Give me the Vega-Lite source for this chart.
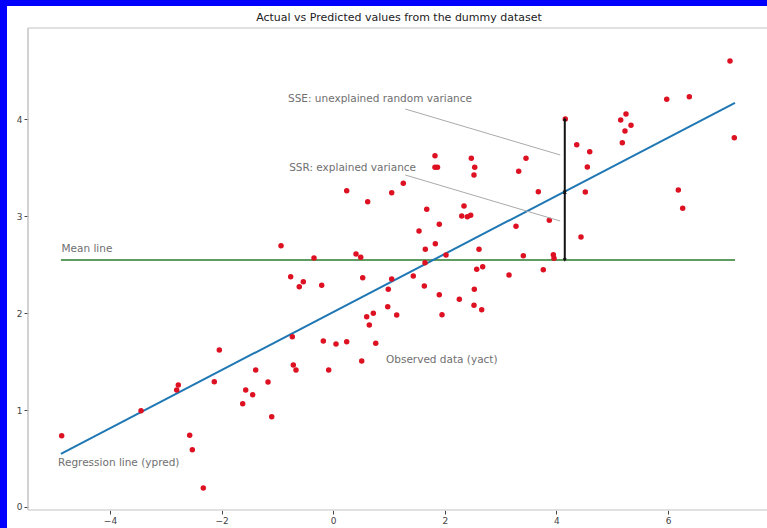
{
  "$schema": "https://vega.github.io/schema/vega-lite/v6.json",
  "width": 760,
  "height": 522,
  "autosize": {"type": "none"},
  "padding": {"left": 7, "top": 6, "right": 0, "bottom": 0},
  "background": "#0000ff",
  "config": {
    "view": {"fill": "white", "stroke": null},
    "font": "DejaVu Sans"
  },
  "title": {
    "text": "Actual vs Predicted values from the dummy dataset",
    "fontSize": 11,
    "fontWeight": "normal",
    "color": "#222222",
    "anchor": "middle",
    "frame": "group",
    "baseline": "middle",
    "offset": -23,
    "dx": 12
  },
  "datasets": {
    "observed": [
      {"x": 0.242, "y": 3.261}, {"x": 0.618, "y": 3.147}, {"x": 1.048, "y": 3.240},
      {"x": -0.935, "y": 2.694}, {"x": -0.344, "y": 2.567}, {"x": 0.409, "y": 2.608},
      {"x": 0.493, "y": 2.574}, {"x": -0.762, "y": 2.374}, {"x": -0.536, "y": 2.323},
      {"x": -0.608, "y": 2.271}, {"x": -0.206, "y": 2.286}, {"x": 0.529, "y": 2.364},
      {"x": 1.048, "y": 2.351}, {"x": 7.111, "y": 4.598}, {"x": 5.977, "y": 4.203},
      {"x": 6.382, "y": 4.230}, {"x": 7.188, "y": 3.807}, {"x": 4.159, "y": 4.000},
      {"x": 5.152, "y": 3.990}, {"x": 5.247, "y": 4.052}, {"x": 5.337, "y": 3.935},
      {"x": 5.229, "y": 3.876}, {"x": 5.181, "y": 3.756}, {"x": 4.364, "y": 3.735},
      {"x": 4.597, "y": 3.663}, {"x": 4.554, "y": 3.505}, {"x": 4.518, "y": 3.247},
      {"x": 6.185, "y": 3.268}, {"x": 6.263, "y": 3.079}, {"x": 4.441, "y": 2.784},
      {"x": 1.824, "y": 3.622}, {"x": 1.824, "y": 3.502}, {"x": 1.869, "y": 3.502},
      {"x": 2.475, "y": 3.595}, {"x": 2.536, "y": 3.502}, {"x": 2.523, "y": 3.423},
      {"x": 3.455, "y": 3.595}, {"x": 3.324, "y": 3.461}, {"x": 1.256, "y": 3.337},
      {"x": 3.676, "y": 3.251}, {"x": 1.676, "y": 3.069}, {"x": 2.344, "y": 3.103},
      {"x": 2.303, "y": 3.000}, {"x": 2.403, "y": 2.993}, {"x": 2.464, "y": 3.007},
      {"x": 1.901, "y": 2.914}, {"x": 1.538, "y": 2.845}, {"x": 3.276, "y": 2.894},
      {"x": 3.873, "y": 2.956}, {"x": 1.830, "y": 2.714}, {"x": 1.651, "y": 2.657},
      {"x": 2.613, "y": 2.657}, {"x": 2.022, "y": 2.598}, {"x": 3.407, "y": 2.591},
      {"x": 3.945, "y": 2.601}, {"x": 3.957, "y": 2.564}, {"x": 1.645, "y": 2.519},
      {"x": 2.572, "y": 2.451}, {"x": 2.679, "y": 2.477}, {"x": 3.765, "y": 2.446},
      {"x": 3.151, "y": 2.392}, {"x": 1.435, "y": 2.381}, {"x": 0.987, "y": 2.244},
      {"x": 1.633, "y": 2.278}, {"x": 2.529, "y": 2.244}, {"x": 0.977, "y": 2.065},
      {"x": 0.600, "y": 1.962}, {"x": 0.719, "y": 1.997}, {"x": 0.647, "y": 1.876},
      {"x": 1.138, "y": 1.979}, {"x": 0.762, "y": 1.688}, {"x": -0.733, "y": 1.756},
      {"x": -0.177, "y": 1.711}, {"x": 0.050, "y": 1.680}, {"x": 0.242, "y": 1.704},
      {"x": 0.511, "y": 1.505}, {"x": -0.081, "y": 1.412}, {"x": -0.715, "y": 1.464},
      {"x": -0.667, "y": 1.412}, {"x": -1.389, "y": 1.412}, {"x": -1.168, "y": 1.289},
      {"x": -1.568, "y": 1.206}, {"x": -1.443, "y": 1.158}, {"x": -1.622, "y": 1.065},
      {"x": -1.102, "y": 0.931}, {"x": -2.041, "y": 1.619}, {"x": -2.131, "y": 1.292},
      {"x": -2.776, "y": 1.258}, {"x": -2.805, "y": 1.206}, {"x": -3.444, "y": 0.993},
      {"x": -4.866, "y": 0.735}, {"x": -2.572, "y": 0.739}, {"x": -2.525, "y": 0.591},
      {"x": -2.328, "y": 0.196}, {"x": 1.901, "y": 2.189}, {"x": 2.260, "y": 2.141},
      {"x": 2.523, "y": 2.079}, {"x": 2.661, "y": 2.034}, {"x": 1.950, "y": 1.982}
    ],
    "meanLine": [{"x": -4.88, "y": 2.546}, {"x": 7.2, "y": 2.546}],
    "regressionLine": [{"x": -4.88, "y": 0.548}, {"x": 7.2, "y": 4.167}],
    "pointers": [
      {"x": 1.29, "y": 4.103, "x2": 4.068, "y2": 3.629},
      {"x": 1.29, "y": 3.423, "x2": 4.068, "y2": 2.948}
    ],
    "residual": [{"x": 4.15, "y": 2.546, "y2": 4.0}],
    "arrowHeads": [
      {"x": 4.15, "y": 4.0, "end": "up"},
      {"x": 4.15, "y": 3.245, "end": "down"},
      {"x": 4.15, "y": 3.245, "end": "up"},
      {"x": 4.15, "y": 2.546, "end": "down"}
    ],
    "labels": [
      {"x": -0.81, "y": 4.21, "label": "SSE: unexplained random variance"},
      {"x": -0.79, "y": 3.50, "label": "SSR: explained variance"},
      {"x": -4.87, "y": 2.66, "label": "Mean line"},
      {"x": -4.93, "y": 0.457, "label": "Regression line (ypred)"},
      {"x": 0.946, "y": 1.515, "label": "Observed data (yact)"}
    ]
  },
  "layer": [
    {
      "data": {"name": "meanLine"},
      "mark": {"type": "line", "color": "#5f9c5f", "strokeWidth": 2},
      "encoding": {
        "x": {
          "field": "x",
          "type": "quantitative",
          "scale": {"domain": [-5.846, 7.774], "nice": false, "zero": false},
          "axis": {
            "values": [-4, -2, 0, 2, 4, 6],
            "format": ".0f",
            "offset": -18,
            "domain": false,
            "grid": false,
            "tickSize": 4,
            "tickColor": "#444444",
            "labelFontSize": 9,
            "labelColor": "#444444",
            "labelPadding": 2,
            "title": null
          }
        },
        "y": {
          "field": "y",
          "type": "quantitative",
          "scale": {"domain": [-0.2165, 5.165], "nice": false, "zero": false},
          "axis": {
            "values": [0, 1, 2, 3, 4],
            "format": ".0f",
            "offset": -21,
            "domain": false,
            "grid": false,
            "tickSize": 4,
            "tickColor": "#444444",
            "labelFontSize": 9,
            "labelColor": "#444444",
            "labelPadding": 2,
            "title": null
          }
        }
      }
    },
    {
      "data": {"values": [{"side": "left"}]},
      "mark": {"type": "rule", "color": "#c4c4c4", "strokeWidth": 1.5},
      "encoding": {
        "x": {"datum": -5.47, "type": "quantitative"},
        "y": {"datum": -0.031, "type": "quantitative"},
        "y2": {"datum": 4.938}
      }
    },
    {
      "data": {"values": [{"side": "top"}]},
      "mark": {"type": "rule", "color": "#d6d6d6", "strokeWidth": 1.5},
      "encoding": {
        "x": {"datum": -5.47, "type": "quantitative"},
        "x2": {"datum": 7.774},
        "y": {"datum": 4.938, "type": "quantitative"}
      }
    },
    {
      "data": {"values": [{"side": "bottom"}]},
      "mark": {"type": "rule", "color": "#d6d6d6", "strokeWidth": 1.5},
      "encoding": {
        "x": {"datum": -5.47, "type": "quantitative"},
        "x2": {"datum": 7.774},
        "y": {"datum": -0.031, "type": "quantitative"}
      }
    },
    {
      "data": {"name": "regressionLine"},
      "mark": {"type": "line", "color": "#1f77b4", "strokeWidth": 2},
      "encoding": {
        "x": {"field": "x", "type": "quantitative"},
        "y": {"field": "y", "type": "quantitative"}
      }
    },
    {
      "data": {"name": "observed"},
      "mark": {"type": "point", "filled": true, "color": "#dd1122", "opacity": 1, "size": 30},
      "encoding": {
        "x": {"field": "x", "type": "quantitative"},
        "y": {"field": "y", "type": "quantitative"}
      }
    },
    {
      "data": {"name": "pointers"},
      "mark": {"type": "rule", "color": "#aaaaaa", "strokeWidth": 1},
      "encoding": {
        "x": {"field": "x", "type": "quantitative"},
        "y": {"field": "y", "type": "quantitative"},
        "x2": {"field": "x2"},
        "y2": {"field": "y2"}
      }
    },
    {
      "data": {"name": "residual"},
      "mark": {"type": "rule", "color": "#111111", "strokeWidth": 2},
      "encoding": {
        "x": {"field": "x", "type": "quantitative"},
        "y": {"field": "y", "type": "quantitative"},
        "y2": {"field": "y2"}
      }
    },
    {
      "data": {"name": "arrowHeads"},
      "mark": {"type": "point", "filled": true, "color": "#111111", "opacity": 1, "size": 16},
      "encoding": {
        "x": {"field": "x", "type": "quantitative"},
        "y": {"field": "y", "type": "quantitative"},
        "shape": {
          "field": "end",
          "type": "nominal",
          "scale": {"domain": ["up", "down"], "range": ["triangle-up", "triangle-down"]},
          "legend": null
        }
      }
    },
    {
      "data": {"name": "labels"},
      "mark": {"type": "text", "align": "left", "baseline": "middle", "fontSize": 10.5, "color": "#707070"},
      "encoding": {
        "x": {"field": "x", "type": "quantitative"},
        "y": {"field": "y", "type": "quantitative"},
        "text": {"field": "label"}
      }
    }
  ]
}
